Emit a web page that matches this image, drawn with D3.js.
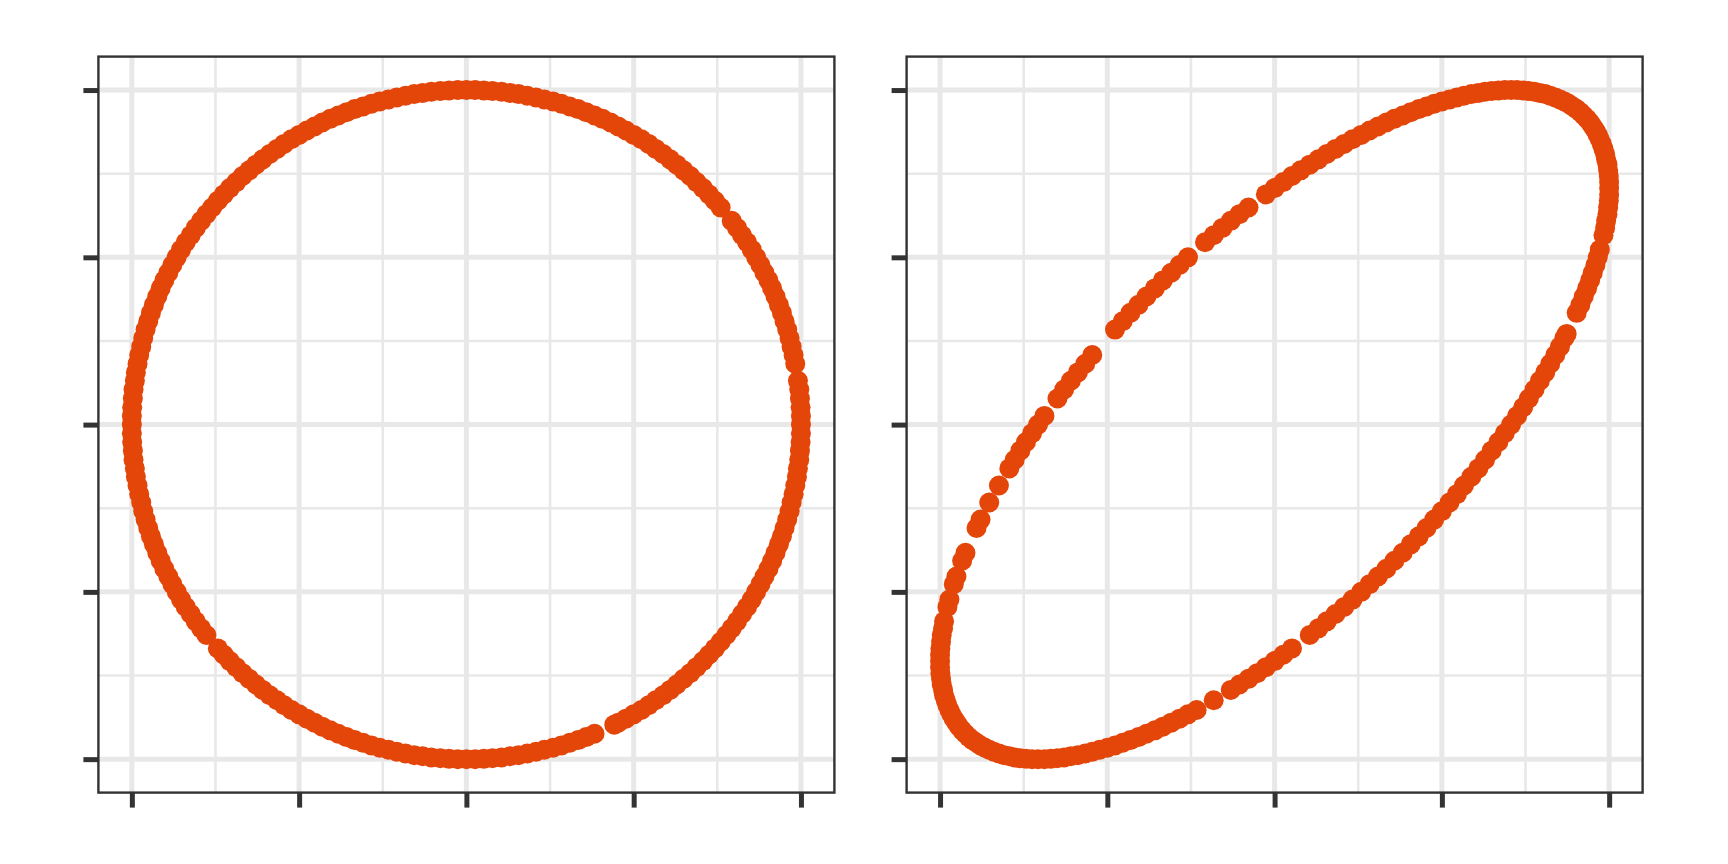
<!DOCTYPE html>
<html>
<head>
<meta charset="utf-8">
<script src="https://cdn.jsdelivr.net/npm/d3@7"></script>
<style>
  body { margin: 0; background: #fff; }
  .grid-major { stroke: #e8e8e8; stroke-width: 5; }
  .grid-minor { stroke: #e8e8e8; stroke-width: 2.6; }
  .axis path.domain { display: none; }
  .axis line { stroke: #333333; stroke-width: 5; }
  .frame { fill: none; stroke: #333333; stroke-width: 2.4; }
</style>
</head>
<body>
<div id="chart-area"></div>
<script>
// tick positions (labels are blank in the original)
const tickValues = [-1, -0.5, 0, 0.5, 1];
const minorValues = [-0.75, -0.25, 0.25, 0.75];

// left panel: points on the circle
const circleX = [
  1, 1, .999, .997, .995, .991, .983, .978, .972, .966, .959, .951, .943, .934, .924, .914, .903, .891, .879, .866,
  .853, .839, .824, .809, .793, .760, .743, .725, .707, .688, .669, .649, .629, .609, .588, .566, .545, .523, .5, .477,
  .454, .431, .407, .383, .358, .334, .309, .284, .259, .233, .208, .182, .156, .131, .105, .078, .052, .026,
  0, -.026, -.052, -.078, -.105, -.131, -.156, -.182, -.208, -.233, -.259, -.284, -.309, -.334, -.358, -.383, -.407, -.431, -.454, -.477,
  -.5, -.523, -.545, -.566, -.588, -.609, -.629, -.649, -.669, -.688, -.707, -.725, -.743, -.760, -.777, -.793, -.809, -.824, -.839, -.853,
  -.866, -.879, -.891, -.903, -.914, -.924, -.934, -.943, -.951, -.959, -.966, -.972, -.978, -.983, -.988, -.991, -.995, -.997, -.999, -1,
  -1, -1, -.999, -.997, -.995, -.991, -.988, -.983, -.978, -.972, -.966, -.959, -.951, -.943, -.934, -.924, -.914, -.903, -.891, -.879,
  -.866, -.853, -.839, -.824, -.809, -.793, -.777, -.743, -.725, -.707, -.688, -.669, -.649, -.629, -.609, -.588, -.566, -.545, -.523, -.5,
  -.477, -.454, -.431, -.407, -.383, -.358, -.334, -.309, -.284, -.259, -.233, -.208, -.182, -.156, -.131, -.105, -.078, -.052, -.026,
  0, .026, .052, .078, .105, .131, .156, .182, .208, .233, .259, .284, .309, .334, .358, .383, .442,
  .454, .477, .5, .523, .545, .566, .588, .609, .629, .649, .669, .688, .707, .725, .743, .760, .777, .793, .809, .824,
  .839, .853, .866, .879, .891, .903, .914, .924, .934, .943, .951, .959, .966, .972, .978, .983, .988, .991, .995, .997, .999, 1
];
const circleY = [
  0, .026, .052, .078, .105, .131, .182, .208, .233, .259, .284, .309, .334, .358, .383, .407, .431, .454, .477, .5,
  .523, .545, .566, .588, .609, .649, .669, .688, .707, .725, .743, .760, .777, .793, .809, .824, .839, .853, .866, .879,
  .891, .903, .914, .924, .934, .943, .951, .959, .966, .972, .978, .983, .988, .991, .995, .997, .999, 1,
  1, 1, .999, .997, .995, .991, .988, .983, .978, .972, .966, .959, .951, .943, .934, .924, .914, .903, .891, .879,
  .866, .853, .839, .824, .809, .793, .777, .760, .743, .725, .707, .688, .669, .649, .629, .609, .588, .566, .545, .523,
  .5, .477, .454, .431, .407, .383, .358, .334, .309, .284, .259, .233, .208, .182, .156, .131, .105, .078, .052, .026,
  0, -.026, -.052, -.078, -.105, -.131, -.156, -.182, -.208, -.233, -.259, -.284, -.309, -.334, -.358, -.383, -.407, -.431, -.454, -.477,
  -.5, -.523, -.545, -.566, -.588, -.609, -.629, -.669, -.688, -.707, -.725, -.743, -.760, -.777, -.793, -.809, -.824, -.839, -.853, -.866,
  -.879, -.891, -.903, -.914, -.924, -.934, -.943, -.951, -.959, -.966, -.972, -.978, -.983, -.988, -.991, -.995, -.997, -.999, -1,
  -1, -1, -.999, -.997, -.995, -.991, -.988, -.983, -.978, -.972, -.966, -.959, -.951, -.943, -.934, -.924, -.897,
  -.891, -.879, -.866, -.853, -.839, -.824, -.809, -.793, -.777, -.760, -.743, -.725, -.707, -.688, -.669, -.649, -.629, -.609, -.588, -.566,
  -.545, -.523, -.5, -.477, -.454, -.431, -.407, -.383, -.358, -.334, -.309, -.284, -.259, -.233, -.208, -.182, -.156, -.131, -.105, -.078, -.052, -.026
];

// right panel: points on the tilted ellipse
const skewX = [
  1, 1, .999, .997, .995, .991, .988, .983, .978, .972, .966, .959, .951, .943, .934, .924, .914, .903, .891, .879,
  .866, .853, .839, .824, .809, .793, .777, .760, .743, .725,
  .707, .688, .669, .649, .629, .609, .588, .566, .545, .523, .5, .477, .454, .431, .407, .383, .358, .334, .309, .284,
  .259, .233, .208, .182, .156, .131, .105, .078, .052, .026,
  0, -.026, -.078, -.105, -.131, -.156, -.182, -.208, -.259, -.284, -.309, -.334, -.358, -.383, -.407, -.431, -.454, -.477,
  -.545, -.566, -.588, -.609, -.629, -.649, -.688,
  -.707, -.725, -.743, -.760, -.777, -.793, -.824, -.853, -.879, -.891, -.924, -.934, -.951, -.959, -.972, -.978,
  -.988, -.991, -.995, -.997, -.999, -1,
  -1, -1, -.999, -.997, -.995, -.991, -.988, -.983, -.978, -.972, -.966, -.959, -.951, -.943, -.934, -.924, -.914, -.903, -.891, -.879,
  -.866, -.853, -.839, -.824, -.809, -.793, -.777, -.760, -.743, -.725,
  -.707, -.688, -.669, -.649, -.629, -.609, -.588, -.566, -.545, -.523, -.5, -.477, -.454, -.431, -.407, -.383, -.358, -.334, -.309, -.284,
  -.259, -.233, -.182, -.131, -.105, -.078, -.052, -.026,
  0, .026, .052, .105, .131, .156, .182, .208, .233, .259, .284, .309, .334, .358, .383, .407, .431, .454, .477, .5,
  .523, .545, .566, .588, .609, .629, .649, .669, .688,
  .707, .725, .743, .760, .777, .793, .809, .824, .839, .853, .866, .873, .903, .914, .924, .934, .943, .951, .959, .966,
  .972, .983, .988, .991, .995, .997, .999, 1
];
const skewY = [
  .707, .725, .743, .760, .777, .793, .809, .824, .839, .853, .866, .879, .891, .903, .914, .924, .934, .943, .951, .959,
  .966, .972, .978, .983, .988, .991, .995, .997, .999, 1,
  1, 1, .999, .997, .995, .991, .988, .983, .978, .972, .966, .959, .951, .943, .934, .924, .914, .903, .891, .879,
  .866, .853, .839, .824, .809, .793, .777, .760, .743, .725,
  .707, .688, .649, .629, .609, .588, .566, .545, .5, .477, .454, .431, .407, .383, .358, .334, .309, .284,
  .208, .182, .156, .131, .105, .078, .026,
  0, -.026, -.052, -.078, -.105, -.131, -.182, -.233, -.284, -.309, -.383, -.407, -.454, -.477, -.523, -.545,
  -.588, -.609, -.629, -.649, -.669, -.688,
  -.707, -.725, -.743, -.760, -.777, -.793, -.809, -.824, -.839, -.853, -.866, -.879, -.891, -.903, -.914, -.924, -.934, -.943, -.951, -.959,
  -.966, -.972, -.978, -.983, -.988, -.991, -.995, -.997, -.999, -1,
  -1, -1, -.999, -.997, -.995, -.991, -.988, -.983, -.978, -.972, -.966, -.959, -.951, -.943, -.934, -.924, -.914, -.903, -.891, -.879,
  -.866, -.853, -.824, -.793, -.777, -.760, -.743, -.725,
  -.707, -.688, -.669, -.629, -.609, -.588, -.566, -.545, -.523, -.5, -.477, -.454, -.431, -.407, -.383, -.358, -.334, -.309, -.284, -.259,
  -.233, -.208, -.182, -.156, -.131, -.105, -.078, -.052, -.026,
  0, .026, .052, .078, .105, .131, .156, .182, .208, .233, .259, .271, .334, .358, .383, .407, .431, .454, .477, .5,
  .523, .566, .588, .609, .629, .649, .669, .688
];

if (circleX.length != circleY.length || skewX.length != skewY.length) {
  console.warn("length mismatch", circleX.length, circleY.length, skewX.length, skewY.length);
}

// SVG drawing area
let svg = d3.select("#chart-area").append("svg")
    .attr("width", 1728)
    .attr("height", 864);

let panelTop = 56.6,
    panelSize = 736;

let panels = [
  {left: 98.4, xs: circleX, ys: circleY},
  {left: 906.6, xs: skewX, ys: skewY}
];

// ggplot style 5% expansion of the data range
function expanded(vals) {
  let ext = d3.extent(vals);
  let pad = (ext[1] - ext[0]) * 0.05;
  return [ext[0] - pad, ext[1] + pad];
}

panels.forEach(function(p) {
  let g = svg.append("g")
      .attr("transform", "translate(" + p.left + "," + panelTop + ")");

  let x = d3.scaleLinear().domain(expanded(p.xs)).range([0, panelSize]);
  let y = d3.scaleLinear().domain(expanded(p.ys)).range([panelSize, 0]);

  // minor grid
  g.selectAll(".gx-minor").data(minorValues).enter().append("line")
      .attr("class", "grid-minor")
      .attr("x1", d => x(d)).attr("x2", d => x(d))
      .attr("y1", 0).attr("y2", panelSize);
  g.selectAll(".gy-minor").data(minorValues).enter().append("line")
      .attr("class", "grid-minor")
      .attr("y1", d => y(d)).attr("y2", d => y(d))
      .attr("x1", 0).attr("x2", panelSize);

  // major grid
  g.selectAll(".gx-major").data(tickValues).enter().append("line")
      .attr("class", "grid-major")
      .attr("x1", d => x(d)).attr("x2", d => x(d))
      .attr("y1", 0).attr("y2", panelSize);
  g.selectAll(".gy-major").data(tickValues).enter().append("line")
      .attr("class", "grid-major")
      .attr("y1", d => y(d)).attr("y2", d => y(d))
      .attr("x1", 0).attr("x2", panelSize);

  // points
  g.selectAll(".dot").data(d3.zip(p.xs, p.ys)).enter().append("circle")
      .attr("class", "dot")
      .attr("cx", d => x(d[0]))
      .attr("cy", d => y(d[1]))
      .attr("r", 10)
      .attr("fill", "#e4460a");

  // frame
  g.append("rect")
      .attr("class", "frame")
      .attr("width", panelSize)
      .attr("height", panelSize);

  // axes: ticks only, no labels
  g.append("g")
      .attr("class", "axis")
      .attr("transform", "translate(0," + panelSize + ")")
      .call(d3.axisBottom(x).tickValues(tickValues).tickSize(15).tickFormat(""));
  g.append("g")
      .attr("class", "axis")
      .call(d3.axisLeft(y).tickValues(tickValues).tickSize(15).tickFormat(""));
});
</script>
</body>
</html>
